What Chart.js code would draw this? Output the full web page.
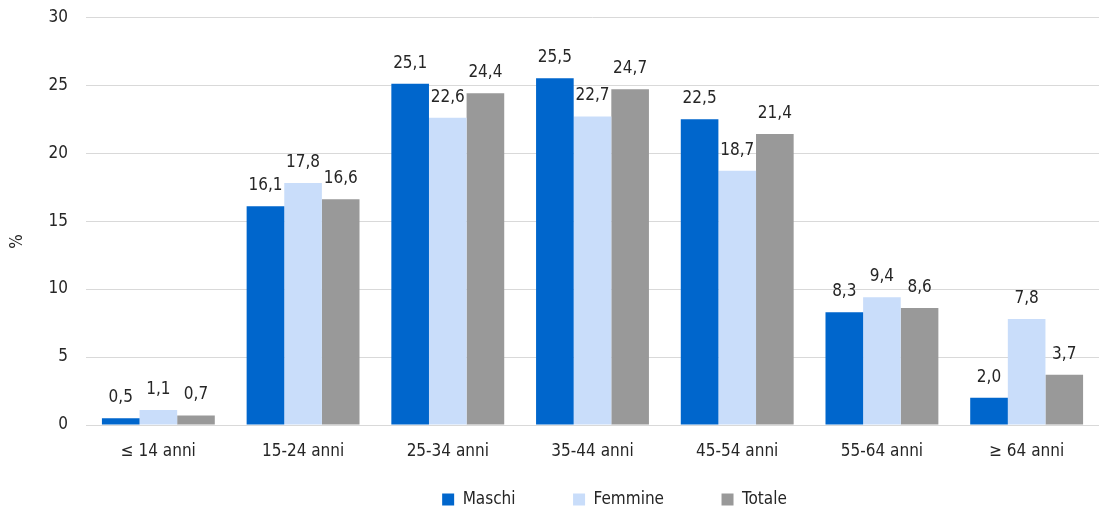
<!DOCTYPE html>
<html><head><meta charset="utf-8">
<script src="https://cdn.jsdelivr.net/npm/chart.js@4/dist/chart.umd.min.js"></script>
<style>html,body{margin:0;padding:0;background:#fff}#wrap{width:1099px;height:511px}</style>
</head><body><div id="wrap"><canvas id="c"></canvas></div>
<script>
const categories = ["≤ 14 anni","15-24 anni","25-34 anni","35-44 anni","45-54 anni","55-64 anni","≥ 64 anni"];
const maschi = [0.5,16.1,25.1,25.5,22.5,8.3,2.0];
const femmine = [1.1,17.8,22.6,22.7,18.7,9.4,7.8];
const totale = [0.7,16.6,24.4,24.7,21.4,8.6,3.7];
const seriesNames = ["Maschi","Femmine","Totale"];
const yTicks = [0,5,10,15,20,25,30];
const yTitle = "%";

const FONT = "'Liberation Sans Narrow','DejaVu Sans Condensed','Roboto',sans-serif";
const TXT = '#262626';
const GAP = '\u2002'.repeat(7);

const labelPlugin = {
  id:'vlabels',
  afterLayout(chart){
    const lg = chart.legend;
    if (lg) { lg.left += 130; }
  },
  afterDatasetsDraw(chart){
    const ctx = chart.ctx;
    ctx.save();
    ctx.font = '17px ' + FONT;
    ctx.fillStyle = TXT;
    ctx.textAlign = 'center';
    ctx.textBaseline = 'alphabetic';
    chart.data.datasets.forEach((ds,i)=>{
      const meta = chart.getDatasetMeta(i);
      meta.data.forEach((el,j)=>{
        ctx.fillText(ds.data[j].toFixed(1).replace('.',','), el.x, el.y - 16);
      });
    });
    const a = chart.chartArea;
    ctx.translate(18, a.top + (a.bottom - a.top) * 0.55);
    ctx.rotate(-Math.PI/2);
    ctx.textBaseline = 'middle';
    ctx.fillText(yTitle, 0, 0);
    ctx.restore();
  }
};

new Chart(document.getElementById('c'),{
  type:'bar',
  data:{labels:categories,datasets:[
    {label:seriesNames[0],data:maschi,backgroundColor:'#0066CC'},
    {label:seriesNames[1],data:femmine,backgroundColor:'#C9DDFA'},
    {label:seriesNames[2],data:totale,backgroundColor:'#999999'}
  ]},
  options:{
    responsive:true,maintainAspectRatio:false,animation:false,
    layout:{padding:{left:0,right:0,top:0,bottom:-7}},
    datasets:{bar:{categoryPercentage:0.78,barPercentage:1}},
    plugins:{
      legend:{position:'bottom',labels:{boxWidth:12,boxHeight:12,padding:4,color:TXT,font:{family:FONT,size:17},
        generateLabels(chart){
          const items = Chart.defaults.plugins.legend.labels.generateLabels(chart);
          items.forEach((it,i)=>{ if(i<items.length-1) it.text = it.text + GAP; });
          return items;
        }}},
      tooltip:{enabled:false}
    },
    scales:{
      x:{grid:{display:false},border:{color:'#d9d9d9'},
        afterFit(s){s.height=62;},
        ticks:{color:TXT,font:{family:FONT,size:17},padding:8}},
      y:{min:0,max:30,
        afterBuildTicks(s){s.ticks=yTicks.map(v=>({value:v}));},
        afterFit(s){s.width=86;},
        grid:{color:'#d9d9d9',drawTicks:true,tickLength:11,tickColor:'rgba(0,0,0,0)'},border:{display:false},
        ticks:{color:TXT,font:{family:FONT,size:17},padding:7},
        title:{display:false}
      }
    }
  },
  plugins:[labelPlugin]
});
</script></body></html>
